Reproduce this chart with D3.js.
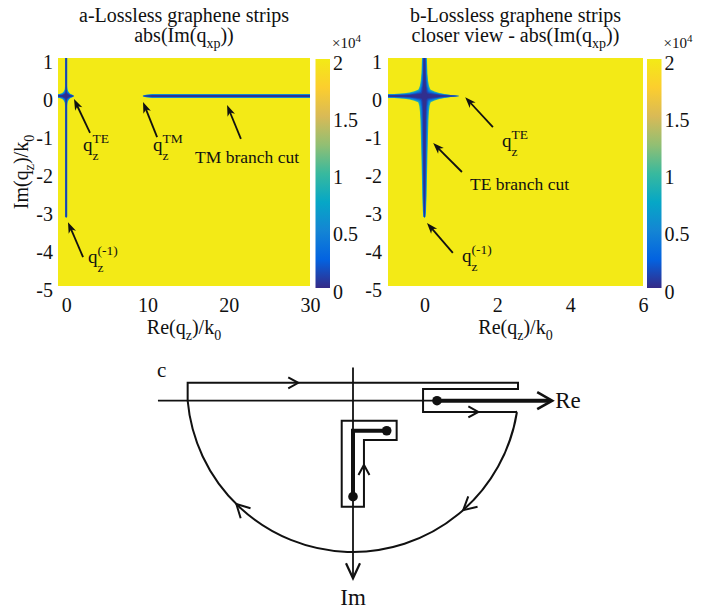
<!DOCTYPE html>
<html>
<head>
<meta charset="utf-8">
<script src="https://cdn.jsdelivr.net/npm/d3@7"></script>
<style>
  body { margin: 0; background: #fff; }
  svg { display: block; }
  text { font-family: "Liberation Serif", "Times New Roman", serif; fill: #111; }
</style>
</head>
<body>
<svg id="fig" width="703" height="609"></svg>
<script>
// ---- axis ticks -------------------------------------------------------
const reTicksA = [0, 10, 20, 30];
const reTicksB = [0, 2, 4, 6];
const imTicks = [1, 0, -1, -2, -3, -4, -5];
const cbTicks = [0, 0.5, 1, 1.5, 2];          // x 10^4

// ---- parula colour map (fraction of range -> colour) -----------------
const parulaPos = [0, 0.125, 0.25, 0.375, 0.5, 0.625, 0.75, 0.875, 1];
const parulaHex = ["#352a87", "#0363e1", "#1485d4", "#06a7c6", "#38b99e",
                   "#92bf73", "#d9ba56", "#fcce2e", "#f3ea16"];

// ---- contour levels of abs(Im(q_xp)) (x 10^4) around each feature -----
// value of the level and its half-width relative to the outer boundary
const levelValues = [0.9, 0.55, 0.3, 0.12, 0.02];
const levelWidths = [1.05, 0.88, 0.68, 0.5, 0.32];

// ---- TE pole at the origin: arm length (along the arm) and half-width --
const tePole = [0, 0];
const teRightD = [0, 0.06, 0.14, 0.28, 0.41, 0.55, 0.77, 0.96];
const teRightW = [0.26, 0.22, 0.17, 0.115, 0.075, 0.05, 0.02, 0];
const teLeftD  = [0, 0.06, 0.14, 0.28, 0.41, 0.55, 0.83, 1.1];
const teLeftW  = [0.26, 0.22, 0.17, 0.12, 0.085, 0.068, 0.052, 0.045];
const teUpD    = [0, 0.06, 0.13, 0.26, 0.4, 0.6, 1.05, 1.6];
const teUpW    = [0.27, 0.22, 0.17, 0.12, 0.095, 0.078, 0.062, 0.055];
// TE branch cut running down to q_z^(-1)
const teDownD  = [0, 0.06, 0.13, 0.26, 0.4, 0.66, 1.05, 1.58, 2.1, 2.63, 3.03, 3.18, 3.2];
const teDownW  = [0.27, 0.22, 0.17, 0.135, 0.118, 0.104, 0.092, 0.079, 0.067, 0.055, 0.041, 0.027, 0];

// ---- TM pole and its branch cut along the real axis -------------------
const tmPole = [9.4, 0];
const tmCutD = [0, 0.4, 1.2, 25];
const tmCutW = [0, 0.03, 0.052, 0.052];

// ---- annotations: [re, im] of arrow head, arrow tail, label -----------
const annotA = [
  { head: [0.97, -0.08], tail: [2.94, -0.97], at: [2.08, -1.45], q: "TE" },
  { head: [9.46, -0.16], tail: [11.19, -1.08], at: [10.7, -1.45], q: "TM" },
  { head: [19.8, -0.24], tail: [21.5, -1.13], at: [15.86, -1.76], text: "TM branch cut" },
  { head: [0.23, -3.32], tail: [2.08, -4.24], at: [2.7, -4.39], q: "(-1)" }
];
const annotB = [
  { head: [1.12, -0.03], tail: [1.88, -0.82], at: [2.13, -1.34], q: "TE" },
  { head: [0.24, -1.24], tail: [1.03, -2.0], at: [1.25, -2.47], text: "TE branch cut" },
  { head: [0.07, -3.34], tail: [0.78, -4.13], at: [1.03, -4.37], q: "(-1)" }
];

// ---- contour sketch in the complex plane (unit = contour radius) ------
const reAxisSpan = [-1.175, 1.2];
const imAxisSpan = [-0.2, 1.07];
const tmBranchPoint = [0.506, 0];
const teBranchPath = [[0.203, 0.181], [0, 0.181], [0, 0.578]];
const contourLine = [[-0.996, 0], [-0.996, -0.108], [0.994, -0.108], [0.994, -0.07],
                     [0.422, -0.07], [0.422, 0.068], [0.988, 0.068]];
const arcCentre = [0, -0.0886];
const arcRadius = 1;
const keyhole = [[-0.068, 0.121], [0.263, 0.121], [0.263, 0.237], [0.066, 0.237],
                 [0.066, 0.639], [-0.068, 0.639]];
const lineArrows = [
  { at: [-0.36, -0.108], dir: [1, 0] },
  { at: [0.725, 0.068], dir: [1, 0] },
  { at: [0.066, 0.417], dir: [0, -1] }
];
const arcArrowAngles = [0.845, 2.35];

// ======================================================================
const serif = "Liberation Serif";
const svg = d3.select("#fig");
svg.append("rect").attr("width", 703).attr("height", 609).attr("fill", "#fff");
const defs = svg.append("defs");

const colour = d3.scaleLinear()
  .domain(parulaPos.map(p => p * 2))
  .range(parulaHex)
  .clamp(true);

const grad = defs.append("linearGradient").attr("id", "parula")
  .attr("x1", 0).attr("y1", 1).attr("x2", 0).attr("y2", 0);
parulaPos.forEach((p, i) =>
  grad.append("stop").attr("offset", p).attr("stop-color", parulaHex[i]));

const yIm = d3.scaleLinear().domain([-5, 1]).range([286, 58]);

const arms = [
  { o: tePole, axis: "re", s: 1, d: teRightD, w: teRightW },
  { o: tePole, axis: "re", s: -1, d: teLeftD, w: teLeftW },
  { o: tePole, axis: "im", s: 1, d: teUpD, w: teUpW },
  { o: tePole, axis: "im", s: -1, d: teDownD, w: teDownW },
  { o: tmPole, axis: "re", s: 1, d: tmCutD, w: tmCutW }
];

// polygon of one arm in pixels; minPx keeps thin features at least one grid cell wide
function armPolygon(arm, f, x, y, minPx) {
  const pts = (sgn) => arm.d.map((d, i) => {
    const w = arm.w[i] * f;
    if (arm.axis === "re") {
      const cy = y(arm.o[1]);
      let h = Math.abs(y(w) - y(0));
      if (w > 0) h = Math.max(h, minPx * f);
      return [x(arm.o[0] + arm.s * d), cy - sgn * h];
    } else {
      const cx = x(arm.o[0]);
      let h = Math.abs(x(w) - x(0));
      if (w > 0) h = Math.max(h, minPx * f);
      return [cx + sgn * h, y(arm.o[1] + arm.s * d)];
    }
  });
  return pts(1).concat(pts(-1).reverse());
}

function drawArrow(g, x1, y1, x2, y2) {
  const dx = x2 - x1, dy = y2 - y1, len = Math.hypot(dx, dy);
  const ux = dx / len, uy = dy / len, nx = -uy, ny = ux;
  const L = 11, W = 4;
  g.append("line")
    .attr("x1", x1).attr("y1", y1)
    .attr("x2", x2 - ux * L * 0.6).attr("y2", y2 - uy * L * 0.6)
    .attr("stroke", "#111").attr("stroke-width", 1.8);
  const pts = [
    [x2, y2],
    [x2 - ux * L + nx * W, y2 - uy * L + ny * W],
    [x2 - ux * L * 0.72, y2 - uy * L * 0.72],
    [x2 - ux * L - nx * W, y2 - uy * L - ny * W]
  ];
  g.append("polygon").attr("points", pts.map(p => p.join(",")).join(" ")).attr("fill", "#111");
}

function qLabel(g, x, y, sup) {
  g.append("text").attr("x", x).attr("y", y).attr("font-size", 19).text("q");
  g.append("text").attr("x", x + 9.5).attr("y", y + 9).attr("font-size", 13.5).text("z");
  g.append("text").attr("x", x + 9.5).attr("y", y - 8).attr("font-size", 13.5).text(sup);
}

function heatPanel(cfg) {
  const g = svg.append("g").attr("font-family", serif);
  const x = d3.scaleLinear().domain(cfg.reDomain).range(cfg.xRange);
  const y = yIm;
  const [x0, x1] = x.range();
  const [yb, yt] = y.range();

  defs.append("clipPath").attr("id", "clip-" + cfg.id)
    .append("rect").attr("x", x0).attr("y", yt).attr("width", x1 - x0).attr("height", yb - yt);

  const field = g.append("g").attr("clip-path", `url(#clip-${cfg.id})`);
  field.append("rect").attr("x", x0).attr("y", yt).attr("width", x1 - x0).attr("height", yb - yt)
    .attr("fill", colour(2));

  const line = d3.line().curve(d3.curveLinearClosed);
  levelValues.forEach((v, k) => {
    arms.forEach(arm => {
      field.append("path").attr("d", line(armPolygon(arm, levelWidths[k], x, y, cfg.minPx)))
        .attr("fill", colour(v));
    });
  });

  // axes (labels only)
  const ax = g.append("g").attr("transform", `translate(0,${yb})`)
    .call(d3.axisBottom(x).tickValues(cfg.reTicks).tickSize(0).tickPadding(12).tickFormat(d => String(d)));
  const ay = g.append("g").attr("transform", `translate(${x0},0)`)
    .call(d3.axisLeft(y).tickValues(imTicks).tickSize(0).tickPadding(cfg.yPad).tickFormat(d => String(d)));
  [ax, ay].forEach(a => {
    a.attr("font-family", serif).attr("font-size", 20);
    a.select(".domain").remove();
    a.selectAll("text").attr("fill", "#111");
  });
  ay.selectAll("text").attr("dy", "0.5em");

  // colour bar
  const cb = d3.scaleLinear().domain([0, 2]).range([288, 59]);
  g.append("rect").attr("x", cfg.cbX).attr("y", cb(2)).attr("width", 14.5)
    .attr("height", cb(0) - cb(2)).attr("fill", "url(#parula)");
  const ac = g.append("g").attr("transform", `translate(${cfg.cbX + 14.5},0)`)
    .call(d3.axisRight(cb).tickValues(cbTicks).tickSize(0).tickPadding(3).tickFormat(d => String(d)));
  ac.attr("font-family", serif).attr("font-size", 20);
  ac.select(".domain").remove();
  ac.selectAll("text").attr("fill", "#111").attr("dy", "0.5em");
  const ex = g.append("text").attr("x", cfg.cbX + 16.5).attr("y", 48).attr("font-size", 15);
  ex.append("tspan").text("\u00d710");
  ex.append("tspan").attr("font-size", 11).attr("dy", -6).text("4");

  // titles
  const cxm = (x0 + x1) / 2;
  g.append("text").attr("x", cxm).attr("y", 22).attr("text-anchor", "middle").attr("font-size", 20).text(cfg.title);
  const t2 = g.append("text").attr("x", cxm).attr("y", 42).attr("text-anchor", "middle").attr("font-size", 20);
  t2.append("tspan").text(cfg.title2 + "abs(Im(q");
  t2.append("tspan").attr("font-size", 14).attr("dy", 6).text("xp");
  t2.append("tspan").attr("dy", -6).text("))");

  // x label
  const xl = g.append("text").attr("x", cxm).attr("y", 334).attr("text-anchor", "middle").attr("font-size", 20);
  xl.append("tspan").text("Re(q");
  xl.append("tspan").attr("font-size", 14).attr("dy", 6).text("z");
  xl.append("tspan").attr("dy", -6).text(")/k");
  xl.append("tspan").attr("font-size", 14).attr("dy", 6).text("0");

  if (cfg.yLabel) {
    const yl = g.append("text").attr("transform", `translate(28,${(yb + yt) / 2}) rotate(-90)`)
      .attr("text-anchor", "middle").attr("font-size", 20);
    yl.append("tspan").text("Im(q");
    yl.append("tspan").attr("font-size", 14).attr("dy", 6).text("z");
    yl.append("tspan").attr("dy", -6).text(")/k");
    yl.append("tspan").attr("font-size", 14).attr("dy", 6).text("0");
  }

  // annotations
  cfg.annot.forEach(a => {
    drawArrow(g, x(a.tail[0]), y(a.tail[1]), x(a.head[0]), y(a.head[1]));
    if (a.q) qLabel(g, x(a.at[0]), y(a.at[1]), a.q);
    else g.append("text").attr("x", x(a.at[0])).attr("y", y(a.at[1])).attr("font-size", 17.5).text(a.text);
  });
}

heatPanel({ id: "a", reDomain: [-1, 30], xRange: [58, 310], reTicks: reTicksA, yPad: 5, minPx: 1.1,
            cbX: 315.5, title: "a-Lossless graphene strips", title2: "", yLabel: true, annot: annotA });
heatPanel({ id: "b", reDomain: [-1, 6], xRange: [388, 643], reTicks: reTicksB, yPad: 6, minPx: 0,
            cbX: 647, title: "b-Lossless graphene strips", title2: "closer view - ", yLabel: false, annot: annotB });

// ---- panel c: integration contour -----------------------------------
const cxS = d3.scaleLinear().domain([0, 1]).range([353, 519]);
const cyS = d3.scaleLinear().domain([0, 1]).range([400.7, 566.7]);
const gc = svg.append("g").attr("fill", "none").attr("stroke", "#111").attr("font-family", serif);

gc.append("text").attr("x", 157).attr("y", 377).attr("font-size", 21)
  .attr("stroke", "none").attr("fill", "#111").text("c");

function chevron(px, py, ux, uy, L, W, sw) {
  const nx = -uy, ny = ux;
  gc.append("path")
    .attr("d", `M${px - ux * L + nx * W},${py - uy * L + ny * W}L${px},${py}L${px - ux * L - nx * W},${py - uy * L - ny * W}`)
    .attr("stroke-width", sw).attr("stroke-linejoin", "miter");
}

// real axis: thin up to the TM branch point, thick along the TM branch cut
gc.append("line").attr("x1", cxS(reAxisSpan[0])).attr("y1", cyS(0))
  .attr("x2", cxS(tmBranchPoint[0])).attr("y2", cyS(0)).attr("stroke-width", 1.8);
gc.append("line").attr("x1", cxS(tmBranchPoint[0])).attr("y1", cyS(0))
  .attr("x2", cxS(reAxisSpan[1]) - 2).attr("y2", cyS(0)).attr("stroke-width", 4);
chevron(cxS(reAxisSpan[1]), cyS(0), 1, 0, 15, 8.5, 2.6);
gc.append("text").attr("x", cxS(reAxisSpan[1]) + 3).attr("y", 408).attr("font-size", 23)
  .attr("stroke", "none").attr("fill", "#111").text("Re");

// imaginary axis
gc.append("line").attr("x1", cxS(0)).attr("y1", cyS(imAxisSpan[0]))
  .attr("x2", cxS(0)).attr("y2", cyS(imAxisSpan[1])).attr("stroke-width", 1.8);
chevron(cxS(0), cyS(imAxisSpan[1]), 0, 1, 15, 7, 2.2);
gc.append("text").attr("x", cxS(0)).attr("y", 605).attr("text-anchor", "middle").attr("font-size", 23)
  .attr("stroke", "none").attr("fill", "#111").text("Im");

// closed contour: straight parts + large arc
const cp = d3.path();
contourLine.forEach((p, i) => i ? cp.lineTo(cxS(p[0]), cyS(p[1])) : cp.moveTo(cxS(p[0]), cyS(p[1])));
const last = contourLine[contourLine.length - 1], first = contourLine[0];
const a0 = Math.atan2(last[1] - arcCentre[1], last[0] - arcCentre[0]);
const a1 = Math.atan2(first[1] - arcCentre[1], first[0] - arcCentre[0]);
const rPx = cxS(arcRadius) - cxS(0);
cp.arc(cxS(arcCentre[0]), cyS(arcCentre[1]), rPx, a0, a1, false);
gc.append("path").attr("d", cp.toString()).attr("stroke-width", 2);

// keyhole around the TE branch cut
gc.append("path").attr("d", d3.line().x(p => cxS(p[0])).y(p => cyS(p[1])).curve(d3.curveLinearClosed)(keyhole))
  .attr("stroke-width", 2);
gc.append("path").attr("d", d3.line().x(p => cxS(p[0])).y(p => cyS(p[1]))(teBranchPath))
  .attr("stroke-width", 4);

// branch points
[tmBranchPoint, teBranchPath[0], teBranchPath[teBranchPath.length - 1]].forEach(p =>
  gc.append("circle").attr("cx", cxS(p[0])).attr("cy", cyS(p[1])).attr("r", 4.8)
    .attr("fill", "#111").attr("stroke", "none"));

// direction arrows
lineArrows.forEach(a => chevron(cxS(a.at[0]) + a.dir[0] * 5, cyS(a.at[1]) + a.dir[1] * 5, a.dir[0], a.dir[1], 10, 5.5, 2));
arcArrowAngles.forEach(t => {
  const px = cxS(arcCentre[0]) + rPx * Math.cos(t), py = cyS(arcCentre[1]) + rPx * Math.sin(t);
  chevron(px, py, -Math.sin(t), Math.cos(t), 13, 7, 2);
});
</script>
</body>
</html>
